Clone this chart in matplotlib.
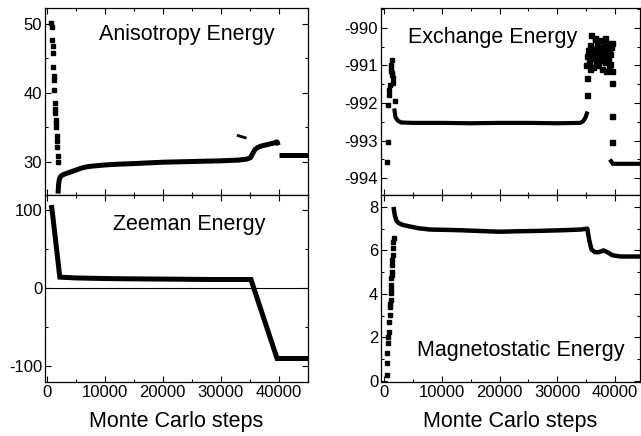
import matplotlib
matplotlib.use('Agg')
import matplotlib.pyplot as plt
from matplotlib.ticker import MultipleLocator

plt.rcParams['font.family'] = ['Liberation Sans', 'DejaVu Sans']
plt.rcParams['axes.unicode_minus'] = False

# anisotropy energy: fast initial relaxation (dots) then the slow curve
aniso_dot_x = [810, 900, 980, 1040, 1090, 1150, 1210, 1260, 1320, 1380, 1440, 1500,
               1550, 1620, 1670, 1720, 1780, 1840, 1900, 2010]
aniso_dot_y = [50.1, 49.6, 47.7, 46.8, 45.8, 43.8, 42.4, 41.9, 40.4, 38.5, 37.6, 37.1,
               36.1, 35.6, 35.1, 33.7, 33.0, 32.2, 30.8, 30.0]
aniso_x = [1950, 2050, 2200, 2500, 3000, 4000, 5000, 6000, 7000, 8000, 10000, 12000,
           15000, 20000, 25000, 30000, 33000, 34500, 35100, 35500, 35900, 36400, 37000,
           38000, 39000, 39700, 39900]
aniso_y = [25.4, 26.8, 27.6, 28.0, 28.2, 28.5, 28.8, 29.1, 29.3, 29.4, 29.55, 29.65,
           29.75, 29.95, 30.05, 30.15, 30.25, 30.4, 30.6, 31.2, 31.8, 32.1, 32.3,
           32.5, 32.7, 32.9, 32.4]
aniso_tail_x = [40000, 45000]
aniso_tail_y = [31.0, 31.0]
aniso_spike_x = [33000, 34200]
aniso_spike_y = [33.8, 33.5]

# zeeman energy
zee_x = [850, 950, 2250, 2700, 3500, 5000, 8000, 12000, 20000, 28000, 35200, 39700, 45000]
zee_y = [103, 98, 14, 13.8, 13.5, 13, 12.5, 12, 11.5, 11, 11, -90, -90]

# exchange energy
exch_dot_x = [570, 690, 690, 810, 810, 980, 1150, 1260, 1380, 1380, 1550, 1550, 1840,
              1300, 1450]
exch_dot_y = [-993.57, -993.03, -992.05, -991.79, -991.65, -991.52, -991.07, -991.16,
              -990.85, -991.25, -991.34, -991.47, -991.96, -991.0, -991.2]
exch_x = [1840, 2000, 2400, 3000, 5000, 10000, 15000, 20000, 25000, 30000, 34000,
          34500, 34900, 35100]
exch_y = [-992.2, -992.38, -992.47, -992.52, -992.53, -992.53, -992.54, -992.53,
          -992.53, -992.54, -992.53, -992.48, -992.38, -992.28]
exch_late_x = [35100, 35100, 39500, 39500, 39500,
               35000, 35200, 35300, 35500, 35600, 35800, 35900, 36100, 36200, 36400,
               36500, 36600, 36700, 36800, 37000, 37100, 37300, 37400, 37500, 37600,
               37700, 37900, 38000, 38200, 38300, 38400, 38500, 38600, 38800, 38900,
               39000, 39100, 39200, 39300, 39400, 39500, 35400, 36000, 36900, 37800,
               38700, 35700, 36300, 37200, 38100]
exch_late_y = [-991.34, -991.79, -991.47, -992.36, -993.03,
               -991.0, -990.75, -990.6, -990.85, -990.45, -990.19, -990.7, -991.05,
               -990.55, -990.8, -990.3, -990.27, -990.9, -990.6, -990.75, -991.0,
               -990.5, -990.85, -990.32, -990.65, -991.1, -990.7, -990.45, -990.9,
               -990.27, -990.6, -991.15, -990.4, -990.8, -990.55, -991.05, -990.7,
               -990.95, -990.5, -991.15, -990.4, -990.95, -990.65, -990.45, -990.85,
               -990.7, -991.1, -990.8, -990.6, -990.55]
exch_tail_x = [39300, 39600, 45000]
exch_tail_y = [-993.55, -993.62, -993.62]

# magnetostatic energy
mag_dot_x = [570, 570, 620, 690, 750, 810, 900, 980, 1030, 1090, 1150, 1150, 1210,
             1260, 1260, 1320, 1380, 1380, 1440, 1500, 1550, 1600, 1670]
mag_dot_y = [0.28, 0.81, 1.3, 1.73, 2.0, 2.27, 2.7, 3.03, 3.42, 3.55, 3.72, 4.03, 4.2,
             4.41, 4.72, 4.88, 5.03, 5.33, 5.55, 5.79, 6.1, 6.4, 6.56]
mag_x = [1720, 1900, 2200, 2600, 3300, 4500, 6000, 8000, 10000, 13000, 16000, 20000,
         23000, 27000, 31000, 34000, 35200, 35500, 35900, 36500, 37200, 38000, 38800,
         39500, 41000, 43000, 45000]
mag_y = [7.9, 7.6, 7.35, 7.25, 7.17, 7.1, 7.02, 6.96, 6.95, 6.93, 6.9, 6.86, 6.88,
         6.9, 6.93, 6.96, 7.0, 6.5, 6.05, 5.92, 5.92, 6.0, 5.9, 5.78, 5.72, 5.72, 5.72]

LW = 3.6
MS = 2.6

fig = plt.figure(figsize=(6.41, 4.36), dpi=100)
ax_a = fig.add_axes([0.0702, 0.5528, 0.410, 0.4289])
ax_z = fig.add_axes([0.0702, 0.1239, 0.410, 0.4289])
ax_e = fig.add_axes([0.5944, 0.5528, 0.404, 0.4289])
ax_m = fig.add_axes([0.5944, 0.1239, 0.404, 0.4289])

ax_a.plot(aniso_dot_x, aniso_dot_y, 's', color='black', ms=MS)
ax_a.plot(aniso_x, aniso_y, color='black', lw=LW, solid_capstyle='butt')
ax_a.plot(aniso_tail_x, aniso_tail_y, color='black', lw=LW, solid_capstyle='butt')
ax_a.plot(aniso_spike_x, aniso_spike_y, color='black', lw=2)
ax_a.set_ylim(25.2, 52.3)
ax_a.yaxis.set_major_locator(MultipleLocator(10))
ax_a.yaxis.set_minor_locator(MultipleLocator(5))

ax_z.axhline(0, color='black', lw=0.8)
ax_z.plot(zee_x, zee_y, color='black', lw=LW, solid_joinstyle='miter')
ax_z.set_ylim(-120, 119)
ax_z.yaxis.set_major_locator(MultipleLocator(100))
ax_z.yaxis.set_minor_locator(MultipleLocator(50))

ax_e.plot(exch_dot_x, exch_dot_y, 's', color='black', ms=MS)
ax_e.plot(exch_x, exch_y, color='black', lw=LW - 0.6)
ax_e.plot(exch_late_x, exch_late_y, 's', color='black', ms=MS + 1.0)
ax_e.plot(exch_tail_x, exch_tail_y, color='black', lw=LW - 0.6)
ax_e.set_ylim(-994.45, -989.47)
ax_e.yaxis.set_major_locator(MultipleLocator(1))
ax_e.yaxis.set_minor_locator(MultipleLocator(0.5))

ax_m.plot(mag_dot_x, mag_dot_y, 's', color='black', ms=MS)
ax_m.plot(mag_x, mag_y, color='black', lw=LW - 0.4)
ax_m.set_ylim(-0.05, 8.55)
ax_m.yaxis.set_major_locator(MultipleLocator(2))
ax_m.yaxis.set_minor_locator(MultipleLocator(1))

for ax in (ax_a, ax_z):
    ax.set_xlim(-300, 45000)
for ax in (ax_e, ax_m):
    ax.set_xlim(-500, 44300)

for ax in (ax_a, ax_z, ax_e, ax_m):
    ax.xaxis.set_major_locator(MultipleLocator(10000))
    ax.xaxis.set_minor_locator(MultipleLocator(5000))
    ax.tick_params(which='both', direction='in', top=True, right=True,
                   labelsize=12, pad=2, width=0.8)
    ax.tick_params(which='major', length=4)
    ax.tick_params(which='minor', length=2.5)
    for s in ax.spines.values():
        s.set_linewidth(0.9)

for ax in (ax_a, ax_e):
    ax.tick_params(labelbottom=False)
for ax in (ax_z, ax_m):
    ax.set_xlabel('Monte Carlo steps', fontsize=15.5, labelpad=8)

ax_a.text(0.54, 0.856, 'Anisotropy Energy', transform=ax_a.transAxes,
          ha='center', va='center', fontsize=15.5)
ax_z.text(0.548, 0.84, 'Zeeman Energy', transform=ax_z.transAxes,
          ha='center', va='center', fontsize=15.5)
ax_e.text(0.432, 0.84, 'Exchange Energy', transform=ax_e.transAxes,
          ha='center', va='center', fontsize=15.5)
ax_m.text(0.54, 0.166, 'Magnetostatic Energy', transform=ax_m.transAxes,
          ha='center', va='center', fontsize=15.5)

fig.savefig('out.png', dpi=100)
